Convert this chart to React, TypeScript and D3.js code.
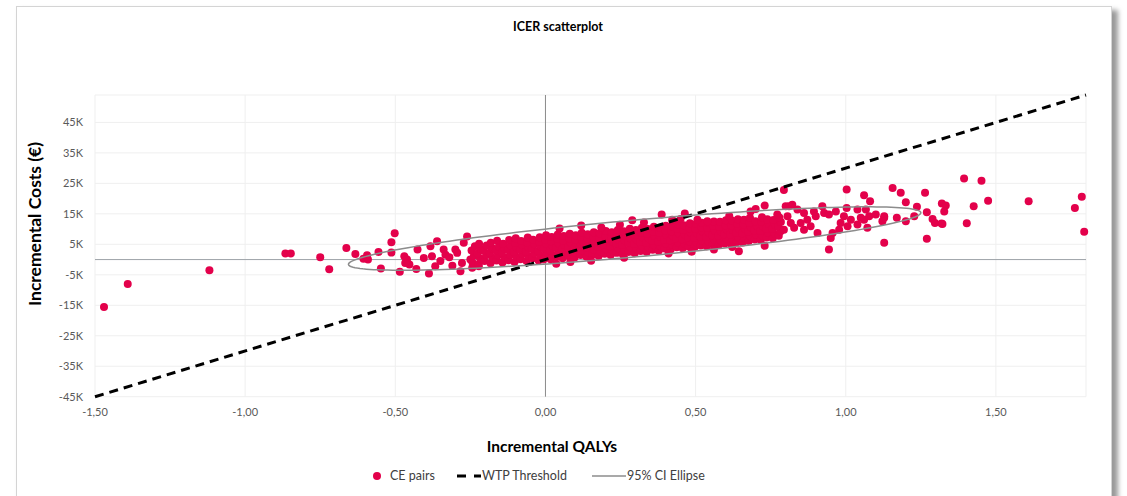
import * as d3 from 'd3';

// Incremental QALYs / incremental costs (thousands of €)
const outlierPairs: [number, number][] = [
  [-1.47, -15.6], [-1.391, -8.0], [-1.119, -3.5], [-0.866, 2.0], [-0.848, 2.0],
  [-0.75, 0.8], [-0.72, -3.2], [-0.663, 3.8], [-0.633, 1.8], [-0.606, 0.3],
  [-0.594, 1.4], [-0.591, 0.0], [-0.556, 2.5], [-0.548, -2.9], [-0.513, 5.7],
  [-0.502, 8.6], [-0.513, 2.3], [-0.485, -4.0], [-0.47, 1.1], [-0.461, 0.0],
  [-0.453, -1.6], [-0.43, -3.1], [-0.426, 3.3], [-0.388, -4.6], [-0.383, 4.4],
  [-0.378, 1.1], [-0.367, -2.2], [-0.361, 6.0], [-0.339, 3.3], [-0.333, 1.6],
  [-0.30, 3.3], [-0.294, 2.2], [-0.278, -1.1], [-0.283, -3.8], [-0.261, 7.6],
  [-0.272, 5.5], [-0.25, 0.0], [-0.244, -2.7], [-0.222, -2.2], [-0.211, 3.3],
  [-0.467, -1.1], [-0.405, 0.5], [-0.35, -0.5], [-0.32, 0.8], [-0.31, -2.0],
];

const bandPairs: [number, number][] = [
  [-0.243, -1.0], [-0.238, 1.3], [-0.246, 3.0], [-0.235, 4.4],
  [-0.223, -1.6], [-0.218, 0.4], [-0.226, 2.0], [-0.215, 3.5], [-0.221, 5.2],
  [-0.203, -0.5], [-0.197, 1.5], [-0.205, 2.9], [-0.196, 4.6],
  [-0.183, -1.2], [-0.177, 0.6], [-0.185, 2.2], [-0.176, 3.6], [-0.182, 5.5],
  [-0.163, -0.3], [-0.158, 1.4], [-0.165, 3.0], [-0.155, 4.3], [-0.161, 6.2],
  [-0.143, -1.0], [-0.137, 0.8], [-0.145, 2.3], [-0.136, 3.7], [-0.141, 5.2],
  [-0.123, -0.2], [-0.117, 1.6], [-0.125, 3.1], [-0.116, 4.6], [-0.121, 6.4],
  [-0.103, -0.8], [-0.097, 0.9], [-0.105, 2.5], [-0.096, 3.9], [-0.101, 5.4], [-0.099, 7.0],
  [-0.083, 0.1], [-0.077, 1.8], [-0.085, 3.2], [-0.076, 4.7], [-0.081, 6.1],
  [-0.063, -0.5], [-0.057, 1.2], [-0.065, 2.6], [-0.056, 4.0], [-0.061, 5.6], [-0.059, 7.2],
  [-0.043, 0.4], [-0.037, 2.0], [-0.045, 3.5], [-0.036, 5.0], [-0.041, 6.5],
  [-0.023, -0.3], [-0.017, 1.3], [-0.025, 2.8], [-0.016, 4.3], [-0.021, 5.8], [-0.019, 7.3],
  [-0.003, 0.6], [0.003, 2.2], [-0.005, 3.6], [0.004, 5.1], [-0.001, 6.6], [0.002, 8.0],
  [0.017, 0.1], [0.023, 1.6], [0.015, 3.0], [0.024, 4.5], [0.019, 6.0], [0.021, 7.4],
  [0.037, 0.9], [0.043, 2.5], [0.035, 3.9], [0.044, 5.3], [0.039, 6.9], [0.041, 8.2],
  [0.057, 0.4], [0.063, 1.9], [0.055, 3.3], [0.064, 4.8], [0.059, 6.2], [0.061, 7.7],
  [0.077, 1.2], [0.083, 2.7], [0.075, 4.1], [0.084, 5.6], [0.079, 7.0], [0.081, 8.5],
  [0.097, 0.7], [0.103, 2.2], [0.095, 3.6], [0.104, 5.1], [0.099, 6.5], [0.101, 8.0],
  [0.117, 1.5], [0.123, 3.0], [0.115, 4.4], [0.124, 5.9], [0.119, 7.4], [0.121, 8.8],
  [0.137, 0.9], [0.143, 2.4], [0.135, 3.9], [0.144, 5.3], [0.139, 6.8], [0.141, 8.3],
  [0.157, 1.7], [0.163, 3.1], [0.155, 4.6], [0.164, 6.1], [0.159, 7.5], [0.161, 9.0],
  [0.177, 1.2], [0.183, 2.7], [0.175, 4.1], [0.184, 5.6], [0.179, 7.1], [0.181, 8.6],
  [0.197, 1.9], [0.203, 3.4], [0.195, 4.9], [0.204, 6.3], [0.199, 7.8], [0.201, 9.4],
  [0.217, 1.5], [0.223, 3.0], [0.215, 4.4], [0.224, 5.9], [0.219, 7.4], [0.221, 9.0],
  [0.237, 2.2], [0.243, 3.7], [0.235, 5.2], [0.244, 6.6], [0.239, 8.1], [0.241, 9.7],
  [0.257, 1.8], [0.263, 3.3], [0.255, 4.8], [0.264, 6.3], [0.259, 7.8], [0.261, 9.3],
  [0.277, 2.5], [0.283, 4.0], [0.275, 5.5], [0.284, 7.0], [0.279, 8.5], [0.281, 10.1],
  [0.297, 2.1], [0.303, 3.6], [0.295, 5.1], [0.304, 6.6], [0.299, 8.1], [0.301, 9.7],
  [0.317, 2.8], [0.323, 4.3], [0.315, 5.8], [0.324, 7.3], [0.319, 8.8], [0.321, 10.4],
  [0.337, 2.5], [0.343, 4.0], [0.335, 5.5], [0.344, 7.0], [0.339, 8.5], [0.341, 10.0],
  [0.357, 3.2], [0.363, 4.7], [0.355, 6.2], [0.364, 7.7], [0.359, 9.2], [0.361, 10.8],
  [0.377, 2.9], [0.383, 4.4], [0.375, 5.9], [0.384, 7.4], [0.379, 8.9], [0.381, 10.4],
  [0.397, 3.6], [0.403, 5.1], [0.395, 6.6], [0.404, 8.1], [0.399, 9.6], [0.401, 11.1],
  [0.417, 3.3], [0.423, 4.8], [0.415, 6.3], [0.424, 7.8], [0.419, 9.3], [0.421, 10.9],
  [0.437, 4.0], [0.443, 5.5], [0.435, 7.0], [0.444, 8.5], [0.439, 10.0], [0.441, 11.6],
  [0.457, 3.7], [0.463, 5.2], [0.455, 6.7], [0.464, 8.2], [0.459, 9.7], [0.461, 11.3],
  [0.477, 4.3], [0.483, 5.8], [0.475, 7.3], [0.484, 8.8], [0.479, 10.3], [0.481, 11.9],
  [0.497, 4.1], [0.503, 5.6], [0.495, 7.1], [0.504, 8.6], [0.499, 10.1], [0.501, 11.7],
  [0.517, 4.6], [0.523, 6.1], [0.515, 7.6], [0.524, 9.1], [0.519, 10.6], [0.521, 12.1],
  [0.537, 4.4], [0.543, 5.9], [0.535, 7.4], [0.544, 8.9], [0.539, 10.4], [0.541, 12.0],
  [0.557, 5.0], [0.563, 6.5], [0.555, 8.0], [0.564, 9.5], [0.559, 11.0], [0.561, 12.5],
  [0.577, 4.8], [0.583, 6.3], [0.575, 7.8], [0.584, 9.3], [0.579, 10.8], [0.581, 12.4],
  [0.597, 5.3], [0.603, 6.8], [0.595, 8.3], [0.604, 9.8], [0.599, 11.3], [0.601, 12.9],
  [0.617, 5.2], [0.623, 6.7], [0.615, 8.2], [0.624, 9.7], [0.619, 11.2], [0.621, 12.8],
  [0.637, 5.7], [0.643, 7.2], [0.635, 8.7], [0.644, 10.2], [0.639, 11.7], [0.641, 13.2],
  [0.657, 5.6], [0.663, 7.1], [0.655, 8.6], [0.664, 10.1], [0.659, 11.6], [0.661, 13.1],
  [0.677, 6.1], [0.683, 7.6], [0.675, 9.1], [0.684, 10.6], [0.679, 12.1], [0.681, 13.7],
  [0.697, 6.6], [0.703, 8.1], [0.695, 9.6], [0.704, 11.1], [0.699, 12.6],
  [0.717, 6.4], [0.723, 7.9], [0.715, 9.4], [0.724, 10.9], [0.719, 12.4], [0.721, 13.9],
  [0.737, 7.2], [0.743, 8.7], [0.735, 10.2], [0.744, 11.7], [0.739, 13.2],
  [0.757, 7.0], [0.763, 8.5], [0.755, 10.0], [0.764, 11.5], [0.759, 13.0],
  [0.777, 7.8], [0.783, 9.3], [0.775, 10.8], [0.784, 12.3], [0.779, 13.8],
  // stray points above / below the band
  [0.047, 10.2], [0.119, 11.2], [0.289, 12.9], [0.328, 12.2], [0.387, 14.8],
  [0.464, 15.1], [0.422, 13.1], [0.45, 13.3], [0.506, 13.1], [0.539, 12.6],
  [0.683, 15.8], [0.70, 16.6], [0.73, 17.7], [0.794, 22.8], [0.772, 14.8],
  [0.036, -1.4], [0.083, -0.8], [0.644, 2.7], [0.561, 3.3], [0.622, 4.1],
  [-0.006, 0.0], [0.73, 4.5], [0.186, 10.5], [0.248, 11.4], [0.612, 14.3],
  [0.152, -0.4], [0.262, 0.6], [0.41, 2.0], [0.487, 2.6],
];

const rightPairs: [number, number][] = [
  [0.80, 17.5], [0.811, 17.5], [0.822, 18.0], [0.839, 16.4], [0.861, 15.3],
  [0.806, 14.2], [0.817, 12.0], [0.85, 12.0], [0.872, 13.1], [0.894, 15.8],
  [0.90, 14.2], [0.922, 17.5], [0.928, 15.3], [0.944, 14.8], [0.967, 15.8],
  [0.794, 9.8], [0.828, 10.4], [0.861, 9.8], [0.883, 10.9], [0.906, 8.7],
  [0.956, 8.7], [0.95, 7.1], [0.944, 3.3], [0.978, 9.8], [0.983, 12.0],
  [0.994, 14.2], [1.003, 16.9], [1.006, 10.9], [1.017, 13.1], [1.039, 16.4],
  [1.039, 11.5], [1.05, 13.7], [1.061, 13.1], [1.067, 16.4], [1.072, 10.4],
  [1.078, 14.2], [1.10, 14.8], [1.128, 14.2], [1.128, 13.7], [1.122, 12.6],
  [1.003, 23.0], [1.061, 21.1], [1.081, 19.1], [1.156, 23.5], [1.183, 21.9],
  [1.20, 18.8], [1.264, 21.9], [1.237, 17.3], [1.27, 15.5], [1.228, 14.2],
  [1.20, 12.6], [1.17, 13.7], [1.289, 13.3], [1.297, 12.0], [1.319, 11.8],
  [1.32, 18.4], [1.333, 17.7], [1.328, 15.8], [1.27, 6.8], [1.128, 5.5],
  [1.394, 26.6], [1.452, 25.9], [1.426, 17.5], [1.474, 19.3], [1.322, 11.7],
  [1.403, 11.9], [1.609, 19.1], [1.786, 20.6], [1.763, 16.9], [1.794, 9.1],
];

const cePairs = [...outlierPairs, ...bandPairs, ...rightPairs];

// Axis ranges and ticks (costs in thousands)
const xDomain: [number, number] = [-1.5, 1.8];
const yDomain: [number, number] = [-45, 54];
const xTicks = [-1.5, -1.0, -0.5, 0, 0.5, 1.0, 1.5];
const yTicks = [-45, -35, -25, -15, -5, 5, 15, 25, 35, 45];

// Willingness-to-pay threshold (thousand € per QALY)
const wtp = 30;

// 95% CI ellipse: centre, semi-major and conjugate semi-minor vectors (data units)
const ellipseCentre: [number, number] = [0.297, 6.9];
const ellipseMajor: [number, number] = [0.953, 8.5];
const ellipseMinor: [number, number] = [0.0056, -6.0];

const FONT = 'Lato, "Open Sans", sans-serif';
const RED = '#e3014b';

export default function App() {
  const W = 1127;
  const H = 496;
  const x = d3.scaleLinear().domain(xDomain).range([95, 1086]);
  const y = d3.scaleLinear().domain(yDomain).range([396.7, 95]);

  const fmtX = (v: number) => d3.format('.2f')(v).replace('.', ',').replace('−', '-');

  const line = d3.line<[number, number]>()
    .x(d => x(d[0]))
    .y(d => y(d[1]));

  const wtpPath = line(xDomain.map(q => [q, q * wtp] as [number, number]));

  const ellipsePts: [number, number][] = d3.range(0, 2 * Math.PI + 0.001, Math.PI / 90).map(t => [
    ellipseCentre[0] + Math.cos(t) * ellipseMajor[0] + Math.sin(t) * ellipseMinor[0],
    ellipseCentre[1] + Math.cos(t) * ellipseMajor[1] + Math.sin(t) * ellipseMinor[1],
  ]);
  const ellipsePath = line.curve(d3.curveLinearClosed)(ellipsePts);

  const [x0, x1] = x.range();
  const [yb, yt] = y.range();

  return (
    <svg width={W} height={H} style={{ position: 'absolute', left: 0, top: 0, display: 'block' }}>
      <defs>
        <filter id="shadow" x="-5%" y="-5%" width="110%" height="110%">
          <feGaussianBlur stdDeviation="2.5" />
        </filter>
      </defs>
      <rect width={W} height={H} fill="#ffffff" />
      {/* chart frame with shadow */}
      <rect x={20} y={10} width={1098} height={492} fill="#9a9a9a" filter="url(#shadow)" />
      <rect x={16.5} y={6.5} width={1095} height={492} fill="#ffffff" stroke="#d4d4d4" strokeWidth={1} />

      <text x={558} y={31} textAnchor="middle" fontFamily={FONT} fontWeight="bold" fontSize={12.5} fill="#000">
        ICER scatterplot
      </text>

      {/* gridlines */}
      <g stroke="#efefef" strokeWidth={1}>
        {yTicks.map(t => <line key={`gy${t}`} x1={x0} x2={x1} y1={y(t)} y2={y(t)} />)}
        {xTicks.map(t => <line key={`gx${t}`} x1={x(t)} x2={x(t)} y1={yt} y2={yb} />)}
        <line x1={x0} x2={x1} y1={yt} y2={yt} />
        <line x1={x1} x2={x1} y1={yt} y2={yb} />
      </g>

      {/* axes through origin */}
      <line x1={x0} x2={x1} y1={y(0)} y2={y(0)} stroke="#9da3a8" strokeWidth={1} />
      <line x1={x(0)} x2={x(0)} y1={yt} y2={yb} stroke="#8a8a8a" strokeWidth={1} />

      {/* tick labels */}
      <g fontFamily={FONT} fontSize={11} fill="#595959">
        {yTicks.map(t => (
          <text key={`ty${t}`} x={83} y={y(t)} dy="0.35em" textAnchor="end">{`${t}K`}</text>
        ))}
        {xTicks.map(t => (
          <text key={`tx${t}`} x={x(t)} y={412} dy="0.35em" textAnchor="middle">{fmtX(t)}</text>
        ))}
      </g>

      {/* CE pairs */}
      <g fill={RED}>
        {cePairs.map((d, i) => <circle key={i} cx={x(d[0])} cy={y(d[1])} r={4} />)}
      </g>

      <path d={wtpPath ?? ''} fill="none" stroke="#000" strokeWidth={3} strokeDasharray="9 6" />
      <path d={ellipsePath ?? ''} fill="none" stroke="#8c8c8c" strokeWidth={1.5} />

      {/* axis titles */}
      <text x={552} y={452} textAnchor="middle" fontFamily={FONT} fontWeight="bold" fontSize={15.5} fill="#000">
        Incremental QALYs
      </text>
      <text transform="translate(41,224) rotate(-90)" textAnchor="middle" fontFamily={FONT} fontWeight="bold" fontSize={17.5} fill="#000">
        Incremental Costs (€)
      </text>

      {/* legend */}
      <g fontFamily={FONT} fontSize={12.5} fill="#404040">
        <circle cx={377} cy={476} r={4} fill={RED} />
        <text x={390} y={476} dy="0.35em">CE pairs</text>
        <line x1={457} x2={481} y1={476} y2={476} stroke="#000" strokeWidth={3} strokeDasharray="9 8" />
        <text x={482} y={476} dy="0.35em">WTP Threshold</text>
        <line x1={592} x2={626} y1={476} y2={476} stroke="#8c8c8c" strokeWidth={1.5} />
        <text x={627} y={476} dy="0.35em">95% CI Ellipse</text>
      </g>
    </svg>
  );
}
